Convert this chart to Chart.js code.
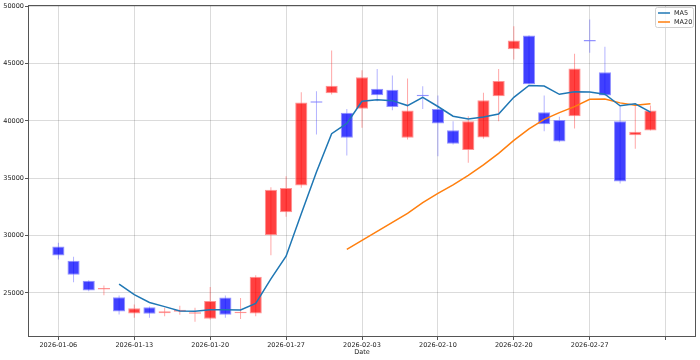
<!DOCTYPE html>
<html lang="ko">
<head>
    <meta charset="UTF-8">
    <title>Candlestick MA5 / MA20</title>
    <script src="https://cdn.jsdelivr.net/npm/chart.js"></script>
    <style>
        body { margin: 0; background: #fff; }
        #chart { display: block; }
    </style>
</head>
<body>
    <canvas id="chart" width="700" height="360"></canvas>
    <script>
        // trading days (index on the x axis)
        const dates = [
            '2026-01-06','2026-01-07','2026-01-08','2026-01-09','2026-01-12',
            '2026-01-13','2026-01-14','2026-01-15','2026-01-16','2026-01-19',
            '2026-01-20','2026-01-21','2026-01-22','2026-01-23','2026-01-26',
            '2026-01-27','2026-01-28','2026-01-29','2026-01-30','2026-02-02',
            '2026-02-03','2026-02-04','2026-02-05','2026-02-06','2026-02-09',
            '2026-02-10','2026-02-11','2026-02-12','2026-02-13','2026-02-19',
            '2026-02-20','2026-02-23','2026-02-24','2026-02-25','2026-02-26',
            '2026-02-27','2026-03-03','2026-03-04','2026-03-05','2026-03-06'
        ];
        const opens = [
            29050, 27800, 26050, 25300, 24620, 23200, 23740, 23230, 23350, 23180,
            22750, 24600, 23230, 23200, 30020, 32030, 34350, 41680, 42400, 40700,
            41050, 42800, 42700, 38520, 42260, 41040, 39180, 37450, 38550, 42150,
            46250, 47450, 40750, 40080, 40400, 46980, 44230, 39960, 38750, 39150
        ];
        const highs = [
            29360, 28140, 26100, 25640, 24770, 23980, 23800, 23690, 23870, 23690,
            25520, 24770, 24560, 26540, 34210, 35170, 42490, 42580, 46130, 41040,
            44410, 44530, 43950, 43690, 43020, 42200, 39960, 40400, 42440, 44530,
            48250, 47460, 42200, 40350, 45840, 48830, 46450, 41270, 41420, 41330
        ];
        const lows = [
            27900, 25920, 25150, 24790, 23110, 22820, 22820, 22960, 23100, 22470,
            22670, 22820, 22730, 22960, 28280, 31630, 34160, 38800, 42290, 36970,
            39390, 41710, 40920, 38370, 41040, 36910, 37930, 36340, 38430, 39960,
            45340, 43180, 39090, 38130, 39330, 45930, 42200, 34530, 37560, 39150
        ];
        const closes = [
            28250, 26570, 25200, 25400, 23370, 23650, 23170, 23400, 23530, 23260,
            24300, 23100, 23330, 26400, 34000, 34150, 41600, 41580, 43050, 38520,
            43800, 42230, 41200, 40900, 42150, 39760, 38000, 39960, 41800, 43470,
            47000, 43200, 39700, 38200, 44560, 46920, 42200, 34700, 39040, 40900
        ];
        const ma5 = [
            null, null, null, null, 25758, 24838, 24158, 23798, 23424, 23402,
            23532, 23518, 23504, 24078, 26226, 28196, 31896, 35546, 38876, 39780,
            41710, 41836, 41760, 41330, 42056, 41248, 40402, 40154, 40334, 40598,
            42046, 43086, 43034, 42314, 42532, 42516, 42316, 41316, 41484, 40752
        ];
        const ma20 = [
            null, null, null, null, null, null, null, null, null, null,
            null, null, null, null, null, null, null, null, null, 28792,
            29569, 30352, 31152, 31927, 32866, 33672, 34413, 35241, 36155, 37165,
            38300, 39305, 40124, 40714, 41242, 41880, 41910, 41566, 41366, 41485
        ];
        const yTicks = [25000, 30000, 35000, 40000, 45000, 50000];
        const xTicks = [0, 5, 10, 15, 20, 25, 30, 35, 40];

        const up = closes.map((c, i) => c >= opens[i]);

        const bodies = opens.map((o, i) => ({ x: i, y: [Math.min(o, closes[i]), Math.max(o, closes[i])] }));
        const wicks = lows.map((l, i) => ({ x: i, y: [l, highs[i]] }));
        const ma5Pts = ma5.map((v, i) => ({ x: i, y: v }));
        const ma20Pts = ma20.map((v, i) => ({ x: i, y: v }));

        const FONT = { family: 'DejaVu Sans', size: 6.5 };

        const framePlugin = {
            id: 'frame',
            afterDraw(chart) {
                const { ctx, chartArea: a } = chart;
                ctx.save();
                ctx.strokeStyle = '#555';
                ctx.lineWidth = 1;
                ctx.strokeRect(a.left + 0.5, a.top + 0.5, a.right - a.left - 1, a.bottom - a.top - 1);

                // legend in the upper right corner
                const bx = a.right - 41, by = a.top + 2, bw = 38, bh = 20;
                ctx.fillStyle = 'rgba(255,255,255,0.8)';
                ctx.strokeStyle = '#d0d0d0';
                ctx.beginPath();
                ctx.roundRect(bx + 0.5, by + 0.5, bw, bh, 2);
                ctx.fill();
                ctx.stroke();
                const items = [['MA5', '#1f77b4'], ['MA20', '#ff7f0e']];
                ctx.font = '6.5px "DejaVu Sans"';
                ctx.textBaseline = 'middle';
                items.forEach(([name, col], k) => {
                    const y = by + 6 + k * 9;
                    ctx.strokeStyle = col;
                    ctx.lineWidth = 1.5;
                    ctx.beginPath();
                    ctx.moveTo(bx + 3, y);
                    ctx.lineTo(bx + 15, y);
                    ctx.stroke();
                    ctx.fillStyle = '#222';
                    ctx.fillText(name, bx + 19, y);
                });
                ctx.restore();
            }
        };

        new Chart(document.getElementById('chart'), {
            type: 'bar',
            data: {
                datasets: [
                    {
                        label: 'MA5',
                        type: 'line',
                        data: ma5Pts,
                        borderColor: '#1f77b4',
                        borderWidth: 1.5,
                        pointRadius: 0,
                        tension: 0,
                        spanGaps: false,
                        order: 0
                    },
                    {
                        label: 'MA20',
                        type: 'line',
                        data: ma20Pts,
                        borderColor: '#ff7f0e',
                        borderWidth: 1.5,
                        pointRadius: 0,
                        tension: 0,
                        spanGaps: false,
                        order: 1
                    },
                    {
                        label: 'body',
                        data: bodies,
                        grouped: false,
                        barPercentage: 0.8,
                        categoryPercentage: 1,
                        backgroundColor: up.map(u => u ? 'rgba(255,0,0,0.75)' : 'rgba(0,0,255,0.75)'),
                        borderColor: up.map(u => u ? 'rgba(255,120,120,0.8)' : 'rgba(120,120,255,0.8)'),
                        borderWidth: 1,
                        borderSkipped: false,
                        minBarLength: 1.5,
                        order: 2
                    },
                    {
                        label: 'wick',
                        data: wicks,
                        grouped: false,
                        maxBarThickness: 1,
                        backgroundColor: up.map(u => u ? 'rgba(255,0,0,0.35)' : 'rgba(0,0,255,0.3)'),
                        borderWidth: 0,
                        order: 3
                    }
                ]
            },
            options: {
                responsive: false,
                animation: false,
                layout: { padding: { top: 5, right: 4, left: 0, bottom: 4 } },
                plugins: {
                    legend: { display: false },
                    tooltip: { enabled: false }
                },
                scales: {
                    x: {
                        type: 'linear',
                        offset: false,
                        min: -2,
                        max: 42,
                        afterBuildTicks: (s) => { s.ticks = xTicks.map(v => ({ value: v })); },
                        afterFit: (s) => { s.height = 19; },
                        ticks: {
                            font: FONT,
                            color: '#222',
                            maxRotation: 0,
                            autoSkip: false,
                            padding: 1,
                            callback: (v) => dates[v] || ''
                        },
                        grid: {
                            offset: false,
                            color: 'rgba(0,0,0,0.14)',
                            tickColor: '#555',
                            tickLength: 3
                        },
                        border: { display: false },
                        title: {
                            display: true,
                            text: 'Date',
                            font: FONT,
                            color: '#222',
                            padding: 0
                        }
                    },
                    y: {
                        min: 21150,
                        max: 50100,
                        afterBuildTicks: (s) => { s.ticks = yTicks.map(v => ({ value: v })); },
                        afterFit: (s) => { s.width = 28; },
                        ticks: {
                            font: FONT,
                            color: '#222',
                            padding: 1,
                            callback: (v) => String(v)
                        },
                        grid: {
                            color: 'rgba(0,0,0,0.14)',
                            tickColor: '#555',
                            tickLength: 3
                        },
                        border: { display: false }
                    }
                }
            },
            plugins: [framePlugin]
        });
    </script>
</body>
</html>
